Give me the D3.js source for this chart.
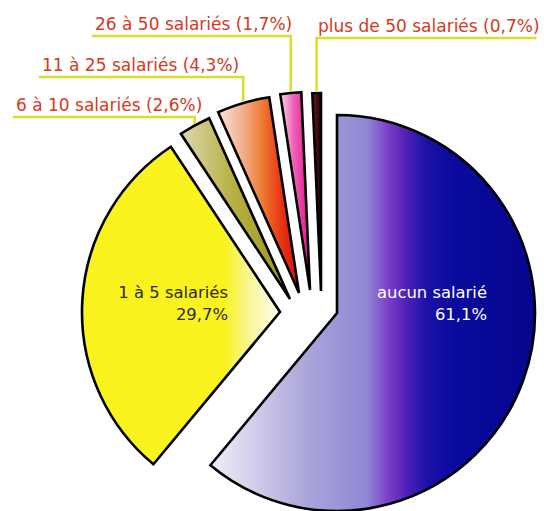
<!DOCTYPE html>
<html>
<head>
<meta charset="utf-8">
<script src="https://cdn.jsdelivr.net/npm/d3@7"></script>
<style>
  html, body { margin: 0; padding: 0; background: #ffffff; }
  svg { display: block; }
</style>
</head>
<body>
<svg id="chart" width="544" height="511"></svg>
<script>
// Répartition des entreprises selon le nombre de salariés
const categories = [
  "aucun salarié",
  "1 à 5 salariés",
  "6 à 10 salariés",
  "11 à 25 salariés",
  "26 à 50 salariés",
  "plus de 50 salariés"
];
const shares = [61.1, 29.7, 2.6, 4.3, 1.7, 0.7];
const shareLabels = ["61,1%", "29,7%", "2,6%", "4,3%", "1,7%", "0,7%"];

// ---- layout ----
const W = 544, H = 511;
const center = [337, 313];
const radius = 198;
// each wedge is pulled away from the centre by its own shift
const shifts = [[0, 0], [-57, -1], [-47, -14], [-38, -20], [-27, -23], [-16, -22]];

// horizontal gradient stops for each wedge
const fills = [
  [[0, "#f1eef9"], [0.3, "#aaa4da"], [0.48, "#9088d4"], [0.55, "#7a3cc8"], [0.6, "#5222b8"], [0.67, "#1a10a8"], [0.75, "#0a0a9e"], [1, "#06068e"]],
  [[0, "#f9f21c"], [0.72, "#faf31e"], [0.85, "#f9f59c"], [1, "#fffff4"]],
  [[0, "#dcd9b0"], [0.45, "#b8b248"], [1, "#9c9618"]],
  [[0, "#fbe2d6"], [0.3, "#f2b090"], [0.55, "#ee7a30"], [0.78, "#e83414"], [1, "#d60e0e"]],
  [[0, "#fbd8ea"], [0.45, "#f062b8"], [1, "#e0108a"]],
  [[0, "#7a1424"], [1, "#1a0306"]]
];

// inside labels (right aligned) for the two large wedges
const insideLabels = [
  { i: 0, x: 487, y: 298, color: "#ffffff" },
  { i: 1, x: 228, y: 298, color: "#2b2b2b" }
];
// callout labels for the small wedges (text start, baseline)
const callouts = [
  { i: 2, x: 16, y: 111 },
  { i: 3, x: 42, y: 71 },
  { i: 4, x: 95, y: 30 },
  { i: 5, x: 318, y: 32 }
];

const svg = d3.select("#chart");
const defs = svg.append("defs");

fills.forEach((stops, k) => {
  const g = defs.append("linearGradient")
    .attr("id", "fill" + k)
    .attr("x1", 0).attr("y1", 0).attr("x2", 1).attr("y2", 0);
  stops.forEach(([o, c]) => g.append("stop").attr("offset", o).attr("stop-color", c));
});

const pie = d3.pie().sort(null).value(d => d)(shares);
const arc = d3.arc().innerRadius(0).outerRadius(radius);

const wedges = svg.append("g").attr("transform", `translate(${center[0]},${center[1]})`);

wedges.selectAll("path")
  .data(pie)
  .join("path")
  .attr("transform", (d, i) => `translate(${shifts[i][0]},${shifts[i][1]})`)
  .attr("d", arc)
  .attr("fill", (d, i) => `url(#fill${i})`)
  .attr("stroke", "#000")
  .attr("stroke-width", 2.6)
  .attr("stroke-linejoin", "miter");

// labels inside the big wedges
insideLabels.forEach(l => {
  const t = svg.append("text")
    .attr("x", l.x).attr("y", l.y)
    .attr("text-anchor", "end")
    .attr("font-family", "DejaVu Sans, Verdana, sans-serif")
    .attr("font-size", 16.4)
    .attr("fill", l.color);
  t.append("tspan").attr("x", l.x).attr("y", l.y).text(categories[l.i]);
  t.append("tspan").attr("x", l.x).attr("y", l.y + 22).text(shareLabels[l.i]);
});

// callouts with their leader lines
const leaderColor = "#d8de2c";
const leaders = svg.append("g");
const labelsG = svg.append("g");
callouts.forEach(c => {
  const d = pie[c.i];
  const mid = (d.startAngle + d.endAngle) / 2;
  const px = center[0] + shifts[c.i][0] + radius * Math.sin(mid);
  const py = center[1] + shifts[c.i][1] - radius * Math.cos(mid) - 1.5;

  const t = labelsG.append("text")
    .attr("x", c.x).attr("y", c.y)
    .attr("font-family", "DejaVu Sans, Verdana, sans-serif")
    .attr("font-size", 17)
    .attr("fill", "#d33a1e")
    .text(`${categories[c.i]} (${shareLabels[c.i]})`);
  const len = t.node().getComputedTextLength();
  const ly = c.y + 6;
  let x0, x1;
  if (c.x > px) { x0 = px; x1 = c.x + len - 3; }
  else { x0 = c.x - 3; x1 = px; }
  leaders.append("path")
    .attr("d", c.x > px
      ? `M${x1},${ly}H${px}V${py}`
      : `M${x0},${ly}H${px}V${py}`)
    .attr("fill", "none")
    .attr("stroke", leaderColor)
    .attr("stroke-width", 2.5);
});
</script>
</body>
</html>
